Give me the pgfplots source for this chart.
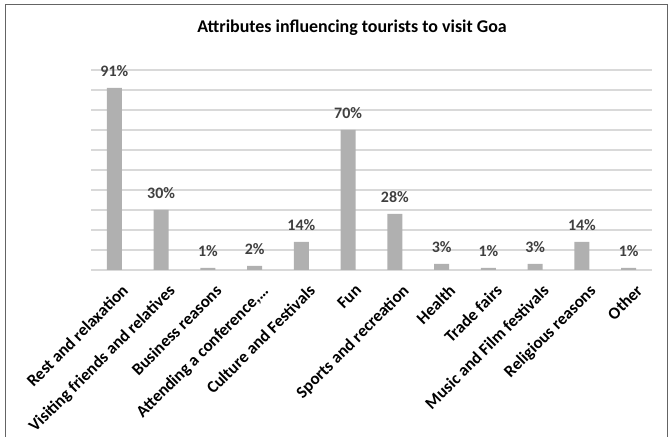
\documentclass[border=0pt]{standalone}
\usepackage{pgfplots}
\pgfplotsset{compat=1.18}
\usepackage{fontspec}
\setmainfont{Carlito}
\definecolor{barc}{RGB}{176,176,176}
\definecolor{gridc}{RGB}{217,217,217}
\definecolor{valc}{RGB}{64,64,64}
\definecolor{framec}{RGB}{100,100,100}
\begin{document}
\begin{tikzpicture}[x=1bp,y=1bp]
\useasboundingbox (0,0) rectangle (672,437);
\draw[framec, line width=1bp] (5.5,-2) -- (5.5,432.5) -- (667.5,432.5) -- (667.5,-2);
\node[font=\bfseries\fontsize{18}{21}\selectfont, text=black] at (352,409) {Attributes influencing tourists to visit Goa};
\begin{axis}[
  at={(91bp,167bp)}, anchor=south west,
  scale only axis, width=561bp, height=200bp,
  xmin=-0.5, xmax=11.5, ymin=0, ymax=100,
  ybar, bar width=15bp,
  axis line style={draw=none},
  major tick length=0pt,
  /pgf/number format/assume math mode=true,
  ytick={0,10,...,100}, yticklabels={},
  ymajorgrids, grid style={draw=gridc, line width=1.2bp},
  xtick={0,...,11},
  xticklabels={Rest and relaxation, Visiting friends and relatives, Business reasons, {Attending a conference,\ldots}, Culture and Festivals, Fun, Sports and recreation, Health, Trade fairs, Music and Film festivals, Religious reasons, Other},
  x tick label style={rotate=45, anchor=north east, font=\bfseries\fontsize{17}{19}\selectfont, text=black, inner sep=1bp, yshift=-13bp, xshift=-4bp},
  nodes near coords={\pgfmathprintnumber{\pgfplotspointmeta}\%},
  nodes near coords style={font=\bfseries\fontsize{16}{18}\selectfont, text=valc, anchor=base, yshift=11bp},
]
\addplot[fill=barc, draw=none] coordinates {
(0,91) (1,30) (2,1) (3,2) (4,14) (5,70) (6,28) (7,3) (8,1) (9,3) (10,14) (11,1)
};
\end{axis}
\end{tikzpicture}
\end{document}
